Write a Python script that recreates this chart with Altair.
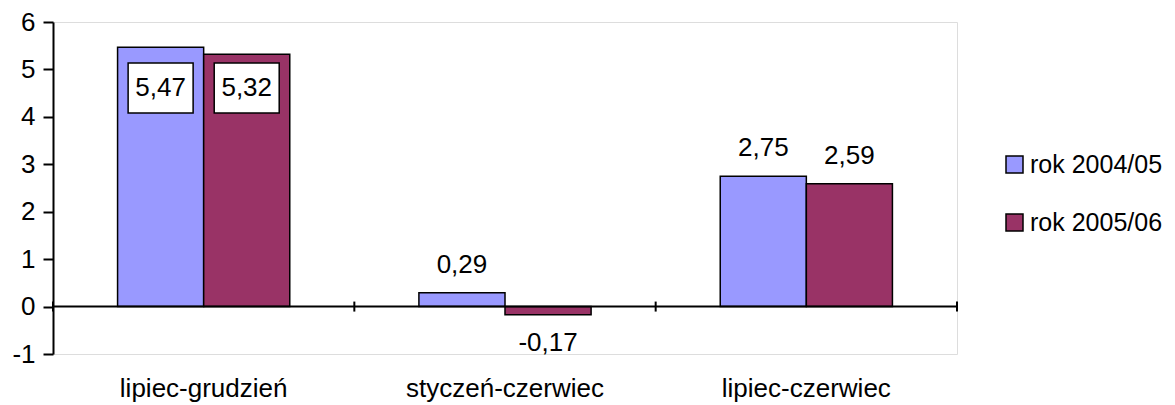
import altair as alt
import pandas as pd

categories = ["lipiec-grudzień", "styczeń-czerwiec", "lipiec-czerwiec"]
series = ["rok 2004/05", "rok 2005/06"]
values_2004 = [5.47, 0.29, 2.75]
values_2005 = [5.32, -0.17, 2.59]
colors = ["#9999FF", "#993366"]
y_ticks = [-1, 0, 1, 2, 3, 4, 5, 6]

rows = []
for c, v1, v2 in zip(categories, values_2004, values_2005):
    rows.append({"okres": c, "rok": series[0], "wartosc": v1})
    rows.append({"okres": c, "rok": series[1], "wartosc": v2})
df = pd.DataFrame(rows)

FONT = "Liberation Sans"
FS = 26

x_axis = alt.Axis(title=None, labelFontSize=FS, labelFont=FONT, labelColor="black",
                  labelPadding=21, labelBaseline="top", labelLimit=0,
                  domain=False, ticks=False, labelAngle=0)
y_axis = alt.Axis(title=None, values=y_ticks, labelFontSize=FS, labelFont=FONT, labelColor="black",
                  labelPadding=8, tickSize=10, tickWidth=2, tickColor="black",
                  domainColor="black", domainWidth=2, grid=False,
                  labelExpr="'' + datum.value")
y_scale = alt.Scale(domain=[-1, 6], nice=False, zero=False)

def X(**kw):
    return alt.X("okres:N", sort=categories, scale=alt.Scale(paddingInner=0, paddingOuter=0), axis=x_axis, **kw)

xoff = alt.XOffset("rok:N", sort=series, scale=alt.Scale(paddingInner=0, paddingOuter=0.75))

base = alt.Chart(df).transform_calculate(
    label="replace(replace(format(datum.wartosc, '.2f'), '.', ','), '\u2212', '-')"
)

bars = base.mark_bar(stroke="black", strokeWidth=1.5).encode(
    x=X(),
    xOffset=xoff,
    y=alt.Y("wartosc:Q", scale=y_scale, axis=y_axis),
    color=alt.Color("rok:N", sort=series, scale=alt.Scale(domain=series, range=colors),
                    legend=alt.Legend(title=None, orient="none", legendX=949, legendY=130,
                                      labelFontSize=25, labelFont=FONT, labelColor="black",
                                      symbolType="square", symbolSize=289,
                                      symbolStrokeColor="black", symbolStrokeWidth=1.5,
                                      symbolOpacity=1, rowPadding=32, labelOffset=3, padding=0,
                                      labelLimit=0)),
)

zero_line = alt.Chart(alt.Data(values=[{}])).mark_rule(color="black", strokeWidth=2).encode(
    y=alt.YDatum(0, scale=y_scale, axis=y_axis)
)

cat_df = pd.DataFrame({"okres": categories})
ticks_start = alt.Chart(cat_df).mark_rule(color="black", strokeWidth=2, yOffset=-5, y2Offset=5).encode(
    x=X(bandPosition=0),
    y=alt.YDatum(0, scale=y_scale, axis=y_axis),
    y2=alt.Y2Datum(0),
)
ticks_end = alt.Chart(cat_df).transform_filter(
    alt.datum.okres == categories[-1]
).mark_rule(color="black", strokeWidth=2, yOffset=-5, y2Offset=5).encode(
    x=X(bandPosition=1),
    y=alt.YDatum(0, scale=y_scale, axis=y_axis),
    y2=alt.Y2Datum(0),
)

first = base.transform_filter(alt.datum.okres == categories[0])
boxes = first.mark_point(
    shape="M-1,-0.77L1,-0.77L1,0.77L-1,0.77Z", size=4225, filled=True,
    fill="white", stroke="black", strokeWidth=1.5, opacity=1
).encode(x=X(), xOffset=xoff, y=alt.value(66))
box_text = first.mark_text(fontSize=FS, font=FONT, color="black", baseline="middle").encode(
    x=X(), xOffset=xoff, y=alt.value(66), text="label:N"
)

others = base.transform_filter(alt.datum.okres != categories[0])
pos_text = others.transform_filter(alt.datum.wartosc >= 0).mark_text(
    fontSize=FS, font=FONT, color="black", baseline="middle", dy=-28
).encode(x=X(), xOffset=xoff, y=alt.Y("wartosc:Q", scale=y_scale, axis=y_axis), text="label:N")
neg_text = others.transform_filter(alt.datum.wartosc < 0).mark_text(
    fontSize=FS, font=FONT, color="black", baseline="middle", dy=28
).encode(x=X(), xOffset=xoff, y=alt.Y("wartosc:Q", scale=y_scale, axis=y_axis), text="label:N")

chart = alt.layer(bars, zero_line, ticks_start, ticks_end, boxes, box_text, pos_text, neg_text).properties(
    width=904, height=332,
    autosize=alt.AutoSizeParams(type="none"),
    padding={"left": 45, "top": 14, "right": 210, "bottom": 50},
).configure_view(stroke="#808080", strokeWidth=1).configure(background="white")

chart.save("out.html", embed_options={"renderer": "svg", "actions": False})
